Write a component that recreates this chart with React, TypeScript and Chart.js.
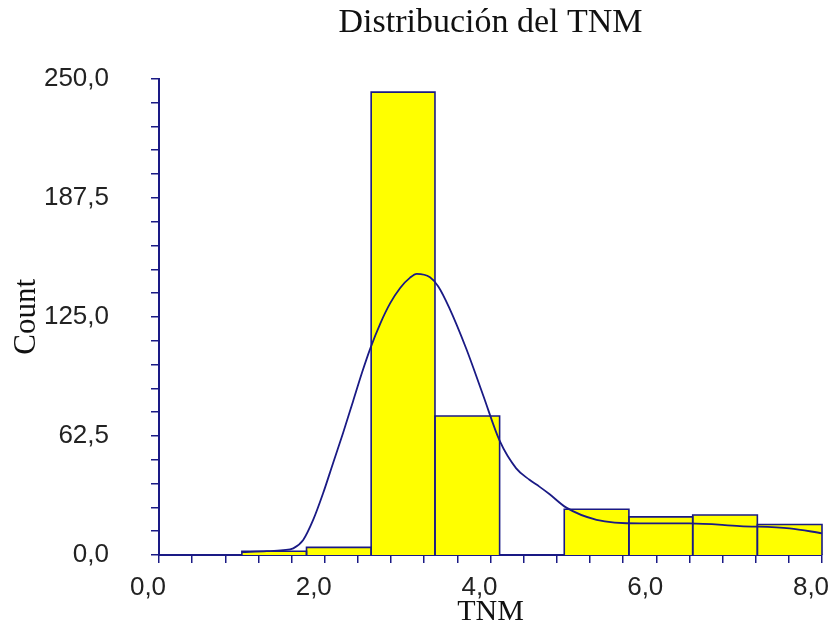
import React, { useEffect, useRef } from "react";
import { Chart, registerables } from "chart.js";

Chart.register(...registerables);

// Histogram bins (TNM) and counts
const binEdges = [1.0, 1.78, 2.56, 3.33, 4.11, 4.89, 5.67, 6.44, 7.22, 8.0];
const binCounts = [2, 4, 243, 73, 0, 24, 20, 21, 16];

// Density curve (scaled to counts)
const curveX = [1.0, 1.3, 1.5, 1.62, 1.74, 1.86, 1.98, 2.1, 2.22, 2.34, 2.45, 2.55, 2.67, 2.79, 2.91, 3.03, 3.11, 3.27, 3.37, 3.5, 3.71, 3.91, 4.11, 4.31, 4.47, 4.59, 4.71, 4.91, 5.28, 5.8, 6.4, 7.01, 7.61, 8.0];
const curveY = [1.5, 2.0, 2.6, 3.5, 7.9, 18.4, 32.4, 48.2, 63.9, 80.5, 95.8, 108.5, 121.5, 132.2, 140.2, 145.6, 147.6, 145.8, 141, 130, 108, 84, 60, 45.5, 39.5, 35.9, 32, 25, 18.5, 16.6, 16.6, 15.2, 14, 11.4];

// Labelled tick values
const yLabelValues = [0, 62.5, 125, 187.5, 250];
const xLabelValues = [0, 2, 4, 6, 8];

const NAVY = "#1a1a85";
const TICK_FONT = { family: "'Liberation Sans', Arial, sans-serif", size: 26 };
const SERIF = "'Liberation Serif', 'Times New Roman', serif";

const fmt = (v: number) => v.toFixed(1).replace(".", ",");
const isLabel = (list: number[], v: number) => list.some((l) => Math.abs(l - v) < 1e-6);

export default function App() {
  const ref = useRef<HTMLCanvasElement>(null);

  useEffect(() => {
    if (!ref.current) return;
    const bars = binCounts.map((c, i) => ({
      label: "bin" + i,
      showLine: true,
      data: [
        { x: binEdges[i], y: 0 },
        { x: binEdges[i], y: c },
        { x: binEdges[i + 1], y: c },
        { x: binEdges[i + 1], y: 0 },
      ],
      borderColor: NAVY,
      borderWidth: 1.6,
      backgroundColor: "#ffff00",
      fill: "origin",
      pointRadius: 0,
      tension: 0,
      order: 2,
      clip: 4,
    }));
    const curve = {
      label: "density",
      showLine: true,
      data: curveX.map((x, i) => ({ x, y: curveY[i] })),
      borderColor: NAVY,
      borderWidth: 1.8,
      backgroundColor: "transparent",
      fill: false,
      pointRadius: 0,
      cubicInterpolationMode: "monotone",
      order: 1,
      clip: 4,
    };

    const chart = new Chart(ref.current, {
      type: "scatter",
      data: { datasets: [curve, ...bars] as any },
      options: {
        animation: false,
        responsive: false,
        events: [],
        layout: { padding: { left: 0, right: 8, top: 0, bottom: 0 } },
        plugins: {
          legend: { display: false },
          tooltip: { enabled: false },
          filler: { drawTime: "beforeDatasetsDraw" },
          title: {
            display: true,
            text: "Distribución del TNM",
            fullSize: false,
            color: "#111",
            font: { family: SERIF, size: 34, weight: "normal" },
            padding: { top: 3, bottom: 35 },
          },
        },
        scales: {
          x: {
            type: "linear",
            min: 0,
            max: 8,
            afterFit: (s: any) => {
              s.height = 78;
              s.paddingLeft = 0;
              s.paddingRight = 0;
            },
            border: { color: NAVY, width: 2 },
            grid: { drawOnChartArea: false, drawTicks: true, tickLength: 8, color: NAVY, lineWidth: 1.5 },
            ticks: {
              stepSize: 0.4,
              maxTicksLimit: 100,
              autoSkip: false,
              maxRotation: 0,
              padding: 9,
              labelOffset: -11,
              color: "#222",
              font: TICK_FONT,
              callback: (v: any) => (isLabel(xLabelValues, Number(v)) ? fmt(Number(v)) : ""),
            },
            title: {
              display: true,
              text: "TNM",
              color: "#111",
              font: { family: SERIF, size: 30 },
              padding: { top: 0, bottom: 3 },
            },
          },
          y: {
            type: "linear",
            min: 0,
            max: 250,
            afterFit: (s: any) => {
              s.width = 159;
            },
            border: { color: NAVY, width: 2 },
            grid: { drawOnChartArea: false, drawTicks: true, tickLength: 8, color: NAVY, lineWidth: 1.5 },
            ticks: {
              stepSize: 12.5,
              maxTicksLimit: 100,
              autoSkip: false,
              padding: 42,
              color: "#222",
              font: TICK_FONT,
              callback: (v: any) => (isLabel(yLabelValues, Number(v)) ? fmt(Number(v)) : ""),
            },
            title: {
              display: true,
              text: "Count",
              color: "#111",
              font: { family: SERIF, size: 31 },
              padding: { top: 8, bottom: 0 },
            },
          },
        },
      } as any,
    });
    return () => chart.destroy();
  }, []);

  return (
    <div style={{ position: "absolute", left: 0, top: 0, width: 830, height: 633, background: "#fff" }}>
      <canvas ref={ref} width={830} height={633} />
    </div>
  );
}
